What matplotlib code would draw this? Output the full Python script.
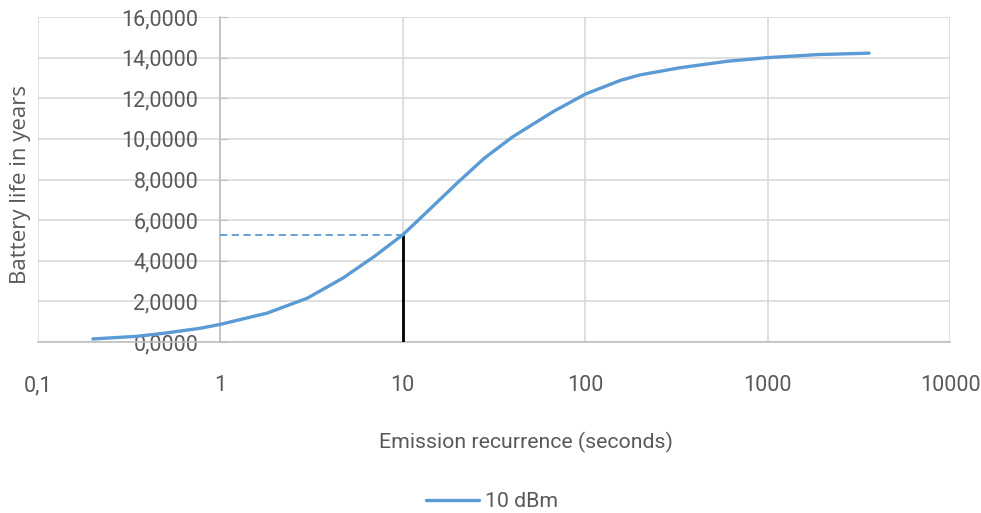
import numpy as np
import matplotlib.pyplot as plt

# valores (recorrencia em segundos, vida da bateria em anos)
recorrencia = [0.2, 0.35, 0.5, 0.78, 1, 1.8, 3, 4.7, 7, 10, 12.5, 15, 20, 28, 40, 67, 100,
               156, 200, 330, 600, 1000, 1900, 3600]
vida = [0.15, 0.28, 0.44, 0.68, 0.87, 1.42, 2.16, 3.15, 4.22, 5.28, 6.1, 6.78, 7.85, 9.05,
        10.1, 11.35, 12.2, 12.88, 13.15, 13.5, 13.82, 14.0, 14.15, 14.22]

ponto_x = 10
ponto_y = 5.28

xticks = [0.1, 1, 10, 100, 1000, 10000]
xlabels = ['0,1', '1', '10', '100', '1000', '10000']
yticks = [0, 2, 4, 6, 8, 10, 12, 14, 16]
ylabels = ['0,0000', '2,0000', '4,0000', '6,0000', '8,0000', '10,0000', '12,0000', '14,0000', '16,0000']

plt.rcParams['font.family'] = ['Roboto', 'DejaVu Sans']
cinza = '#595959'
grade = '#d9d9d9'
azul = '#5b9bd5'

fig = plt.figure(figsize=(9.81, 5.13), dpi=100)
ax = fig.add_axes([38/981, 1-342/513, (950-38)/981, (342-17)/513])

ax.set_xscale('log')
ax.set_xlim(0.1, 10000)
ax.set_ylim(0, 16)

ax.plot(recorrencia, vida, color=azul, lw=2.4, solid_capstyle='round', solid_joinstyle='round',
        label='10 dBm', zorder=4)
ax.plot([1, ponto_x], [ponto_y, ponto_y], color=azul, lw=1.3, ls=(0, (4, 2.5)), zorder=3)
ax.plot([ponto_x, ponto_x], [0, ponto_y], color='black', lw=2.0, zorder=3)

ax.set_xticks(xticks)
ax.set_xticklabels(xlabels)
ax.xaxis.set_minor_locator(plt.NullLocator())
ax.set_yticks(yticks)
ax.set_yticklabels(ylabels)

ax.grid(True, color=grade, lw=1.2, zorder=0)
ax.set_axisbelow(True)

for s in ['top', 'right']:
    ax.spines[s].set_visible(False)
ax.spines['left'].set_position(('data', 1))
ax.spines['left'].set_color('#bfbfbf')
ax.spines['bottom'].set_color('#bfbfbf')
ax.spines['left'].set_linewidth(1.2)
ax.spines['bottom'].set_linewidth(1.2)

ax.tick_params(axis='x', length=0, pad=24, labelsize=15.5, labelcolor=cinza)
ax.tick_params(axis='y', direction='in', length=5, color='#bfbfbf', pad=16, labelsize=15.5, labelcolor=cinza)

fig.text(526/981, 1-442/513, 'Emission recurrence (seconds)', ha='center', va='center', fontsize=15.3, color=cinza)
fig.text(21/981, 1-184/513, 'Battery life in years', ha='center', va='center', rotation=90, fontsize=16,
         color=cinza, family=['Open Sans', 'DejaVu Sans'])

leg = fig.legend(loc='center', bbox_to_anchor=(492/981, 1-502/513), frameon=False, fontsize=15.3,
                 handlelength=2.5, handletextpad=0.3)
for t in leg.get_texts():
    t.set_color(cinza)

fig.savefig('out.png', dpi=100)
